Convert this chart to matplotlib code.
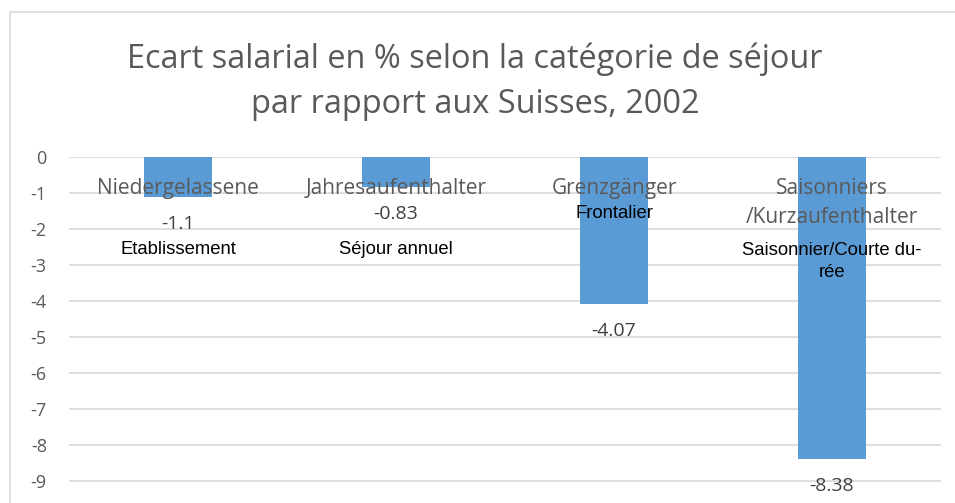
import matplotlib.pyplot as plt
from matplotlib.patches import Rectangle

categories = ["Niedergelassene", "Jahresaufenthalter", "Grenzgänger", "Saisonniers\n/Kurzaufenthalter"]
values = [-1.1, -0.83, -4.07, -8.38]
value_labels = ["-1.1", "-0.83", "-4.07", "-8.38"]
french_labels = ["Etablissement", "Séjour annuel", "Frontalier", "Saisonnier/Courte du-\nrée"]
french_y = [-2.56, -2.56, -1.56, -2.9]
yticks = [0, -1, -2, -3, -4, -5, -6, -7, -8, -9]

W, H = 955, 503
fig = plt.figure(figsize=(W / 100, H / 100), dpi=100)
fig.patches.append(Rectangle((10 / W, -0.1), 1.2, (H - 12) / H + 0.1, transform=fig.transFigure,
                             fill=False, edgecolor="#d9d9d9", linewidth=1.2))

x0, x1 = 69, 941
ytop, ybot = 157, 503
ymin = -(ybot - ytop) / 36.0
ax = fig.add_axes([x0 / W, 0, (x1 - x0) / W, (H - ytop) / H])
ax.set_xlim(-0.5, 3.5)
ax.set_ylim(ymin, 0)

grey = "#595959"
for t in yticks:
    ax.axhline(t, color="#d9d9d9", linewidth=1.2, zorder=0)

xs = list(range(len(categories)))
ax.bar(xs, values, width=0.315, color="#5b9bd5", zorder=2)

for s in ax.spines.values():
    s.set_visible(False)
ax.set_xticks([])
ax.set_yticks(yticks)
ax.set_yticklabels([str(t) for t in yticks], fontsize=13, color=grey, family="Open Sans")
ax.tick_params(axis="y", length=0, pad=16)

# category labels drawn just below the zero axis line
for x, c in zip(xs, categories):
    ax.text(x, -0.58, c, ha="center", va="top", fontsize=15, color=grey,
            family="Open Sans", linespacing=1.48, zorder=3)

for x, v, lab in zip(xs, values, value_labels):
    ax.text(x, v - 0.76, lab, ha="center", va="center", fontsize=14, color="#404040",
            family="Open Sans", zorder=3)

for x, y, lab in zip(xs, french_y, french_labels):
    ax.text(x, y, lab, ha="center", va="center", fontsize=13.3, color="black",
            family="Liberation Sans", linespacing=1.4, zorder=3)

fig.text(475 / W, 1 - 82 / H, "Ecart salarial en % selon la catégorie de séjour\npar rapport aux Suisses, 2002",
         ha="center", va="center", fontsize=23.4, color=grey, family="Open Sans", linespacing=1.49)

fig.savefig("out.png", dpi=100)
